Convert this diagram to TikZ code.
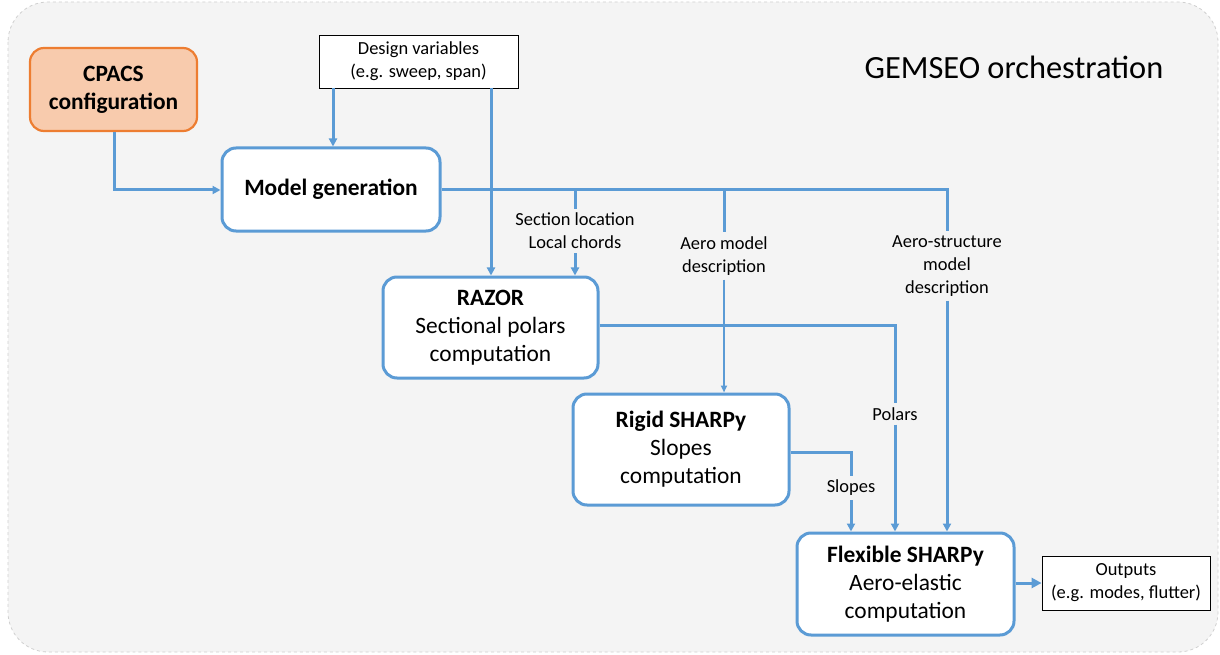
\documentclass[tikz,border=0pt]{standalone}
\usepackage{fontspec}
\setmainfont{Carlito}
\usetikzlibrary{arrows.meta}
\definecolor{blu}{HTML}{5B9BD5}
\definecolor{orb}{HTML}{ED7D31}
\definecolor{orf}{HTML}{F8CBAD}
\definecolor{bgc}{HTML}{F4F4F4}
\definecolor{bgb}{HTML}{D0D0D0}
\begin{document}
\begin{tikzpicture}[x=1bp,y=-1bp,
  box/.style={draw=blu, line width=3bp, rounded corners=14bp, fill=white, align=center,
    font=\fontsize{23.5}{28}\selectfont, inner sep=0pt},
  cpacsbox/.style={box, draw=orb, fill=orf, line width=2.2bp},
  plainbox/.style={draw=black, line width=0.8bp, fill=white, align=center,
    font=\fontsize{18.5}{23}\selectfont, inner sep=0pt},
  lbl/.style={align=center, font=\fontsize{18.5}{23}\selectfont, inner sep=4bp},
  conn/.style={draw=blu, line width=3bp},
  thinconn/.style={draw=blu, line width=1.8bp},
  arr/.style={conn, -{Triangle[length=8bp,width=8bp]}},
  thinarr/.style={thinconn, -{Triangle[length=7bp,width=6bp]}}
]
\useasboundingbox (0,0) rectangle (1220,655);
\draw[fill=bgc, draw=bgb, dashed, line width=0.8bp, rounded corners=40bp] (8,2) rectangle (1218,652);

\node[cpacsbox, minimum width=167bp, minimum height=83bp] (cpacs) at (113.5,89.5) {\textbf{CPACS}\\\textbf{configuration}};
\node[plainbox, minimum width=199bp, minimum height=53bp] (dv) at (418.5,61.5) {Design variables\\(e.g. sweep, span)};
\node[box, minimum width=218bp, minimum height=83bp] (mg) at (331,189.5) {\textbf{Model generation}};
\node[box, minimum width=215bp, minimum height=101bp] (razor) at (490.5,327.5) {\textbf{RAZOR}\\Sectional polars\\computation};
\node[box, minimum width=216bp, minimum height=111bp] (rigid) at (681,449.5) {\textbf{Rigid SHARPy}\\Slopes\\computation};
\node[box, minimum width=217bp, minimum height=102bp] (flex) at (905.5,584) {\textbf{Flexible SHARPy}\\Aero-elastic\\computation};
\node[plainbox, minimum width=168bp, minimum height=54bp] (out) at (1126,583) {Outputs\\(e.g. modes, flutter)};
\node[font=\fontsize{32.5}{38}\selectfont, inner sep=0pt] (title) at (1014,67) {GEMSEO orchestration};

\node[lbl] (sec) at (575,231) {Section location\\Local chords};
\node[lbl] (aero) at (724,256) {Aero model\\description};
\node[lbl] (aerostr) at (947,266) {Aero-structure\\model\\description};
\node[lbl] (polars) at (895,414) {Polars};
\node[lbl] (slopes) at (851,488) {Slopes};

\coordinate (jsec) at (575,190);
\coordinate (jaero) at (724,190);
\coordinate (jstr) at (947,190);
\coordinate (cp) at (114,190);
\coordinate (dvl) at (333,88);
\coordinate (dvr) at (491,88);
\coordinate (rzr) at (895,325);
\coordinate (rgr) at (851,452);

% CPACS -> Model generation
\draw[arr] (cpacs.south -| cp) -- (cp) -- (mg.west |- cp);
% Design variables
\draw[arr] (dvl) -- (dvl |- mg.north);
\draw[arr] (dvr) -- (dvr |- razor.north);
% Model generation outputs
\draw[conn] (mg.east |- jsec) -- (jstr) -- (aerostr.north);
\draw[conn] (jsec) -- (sec.north);
\draw[arr] (sec.south) -- (sec.south |- razor.north);
\draw[conn] (jaero) -- (aero.north);
\draw[thinarr] (aero.south) -- (aero.south |- rigid.north);
\draw[arr] (aerostr.south) -- (aerostr.south |- flex.north);
% RAZOR -> Flexible
\draw[conn] (razor.east |- rzr) -- (rzr) -- (polars.north);
\draw[arr] (polars.south) -- (polars.south |- flex.north);
% Rigid -> Flexible
\draw[conn] (rigid.east |- rgr) -- (rgr) -- (slopes.north);
\draw[arr] (slopes.south) -- (slopes.south |- flex.north);
% Flexible -> Outputs
\draw[conn, -{Triangle[length=10bp,width=10bp]}] (flex.east |- out.west) -- (out.west);
\end{tikzpicture}
\end{document}
